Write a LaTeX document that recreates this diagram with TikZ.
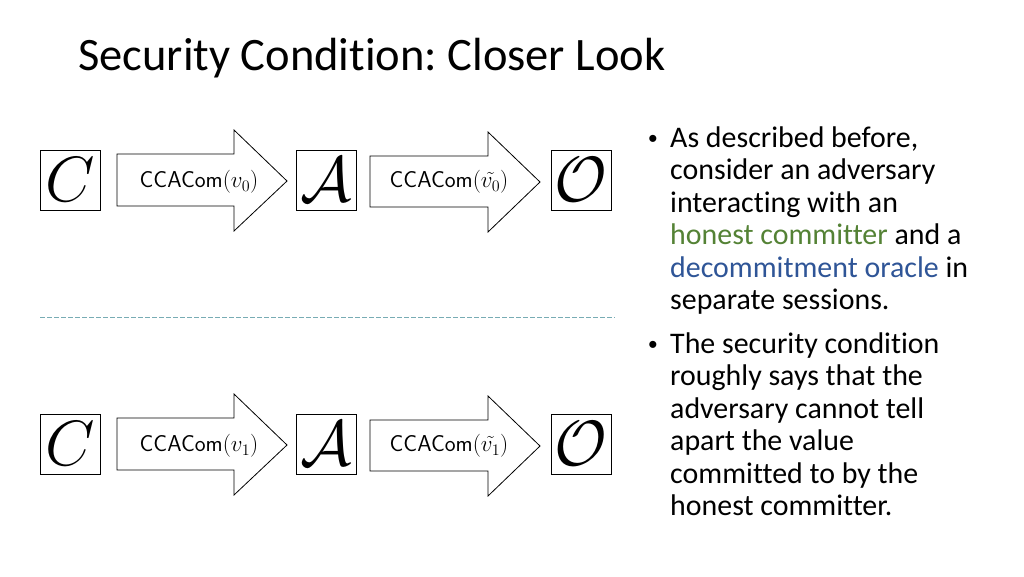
\RequirePackage{fix-cm}
\documentclass[tikz,border=0pt]{standalone}
\usepackage[no-math]{fontspec}
\setmainfont{Carlito}[Ligatures=NoCommon]
\newfontfamily\bulletfont{Liberation Sans}
\definecolor{hgreen}{RGB}{84,130,53}
\definecolor{dblue}{RGB}{47,85,151}
\definecolor{dashc}{RGB}{120,172,180}
\frenchspacing
\begin{document}
\begin{tikzpicture}[x=1pt,y=-1pt,
  ent/.style={draw=black,line width=0.9pt,minimum width=60pt,minimum height=60pt,inner sep=0pt,font=\fontsize{64}{64}\selectfont},
  blockarrow/.style={draw=black,line width=0.8pt,fill=white},
  lab/.style={inner sep=0pt,font=\fontsize{23}{25}\selectfont},
  body/.style={inner sep=0pt,anchor=base west,font=\fontsize{29.9}{32.5}\selectfont},
  bul/.style={inner sep=0pt,anchor=base,font=\bulletfont\fontsize{26}{26}\selectfont}]
\useasboundingbox (0,0) rectangle (1024,576);
\fill[white] (0,0) rectangle (1024,576);
% title
\node[anchor=base west,inner sep=0pt,font=\fontsize{46.5}{50}\selectfont] (title) at (78,70) {Security Condition: Closer Look};
% top row
\node[ent] (C0) at (70,180) {$C$};
\node[ent] (A0) at (326.5,180) {$\mathcal{A}$};
\node[ent] (O0) at (581,180) {$\mathcal{O}$};
\draw[blockarrow] (117,154) -- (234,154) -- (234,130) -- (287,181) -- (234,231) -- (234,206) -- (117,206) -- cycle;
\draw[blockarrow] (370,156) -- (488,156) -- (488,132) -- (540,182) -- (488,232) -- (488,207) -- (370,207) -- cycle;
\node[lab] (l0) at (199,182) {\textsf{CCACom}$(v_0)$};
\node[lab] (m0) at (449,182) {\textsf{CCACom}$(\tilde{v_0})$};
% separator
\coordinate (s1) at (40,317);
\coordinate (s2) at (615,317);
\draw[dashc,line width=0.9pt,dash pattern=on 4.5pt off 2.5pt] (s1) -- (s2);
% bottom row
\node[ent] (C1) at (70,444) {$C$};
\node[ent] (A1) at (326.5,444) {$\mathcal{A}$};
\node[ent] (O1) at (581,444) {$\mathcal{O}$};
\draw[blockarrow] (117,418) -- (234,418) -- (234,394) -- (287,445) -- (234,495) -- (234,470) -- (117,470) -- cycle;
\draw[blockarrow] (370,420) -- (488,420) -- (488,396) -- (540,446) -- (488,496) -- (488,471) -- (370,471) -- cycle;
\node[lab] (l1) at (199,446) {\textsf{CCACom}$(v_1)$};
\node[lab] (m1) at (449,446) {\textsf{CCACom}$(\tilde{v_1})$};
% bullets
\node[bul] (b1) at (653,147) {•};
\node[body] (t1) at (670,147) {\parbox[t]{340pt}{\raggedright
As described before,\\
consider an adversary\\
interacting with an\\
\textcolor{hgreen}{honest committer} and a\\
\textcolor{dblue}{decommitment oracle} in\\
separate sessions.}};
\node[bul] (b2) at (653,353) {•};
\node[body] (t2) at (670,353) {\parbox[t]{340pt}{\raggedright
The security condition\\
roughly says that the\\
adversary cannot tell\\
apart the value\\
committed to by the\\
honest committer.}};
\end{tikzpicture}
\end{document}
